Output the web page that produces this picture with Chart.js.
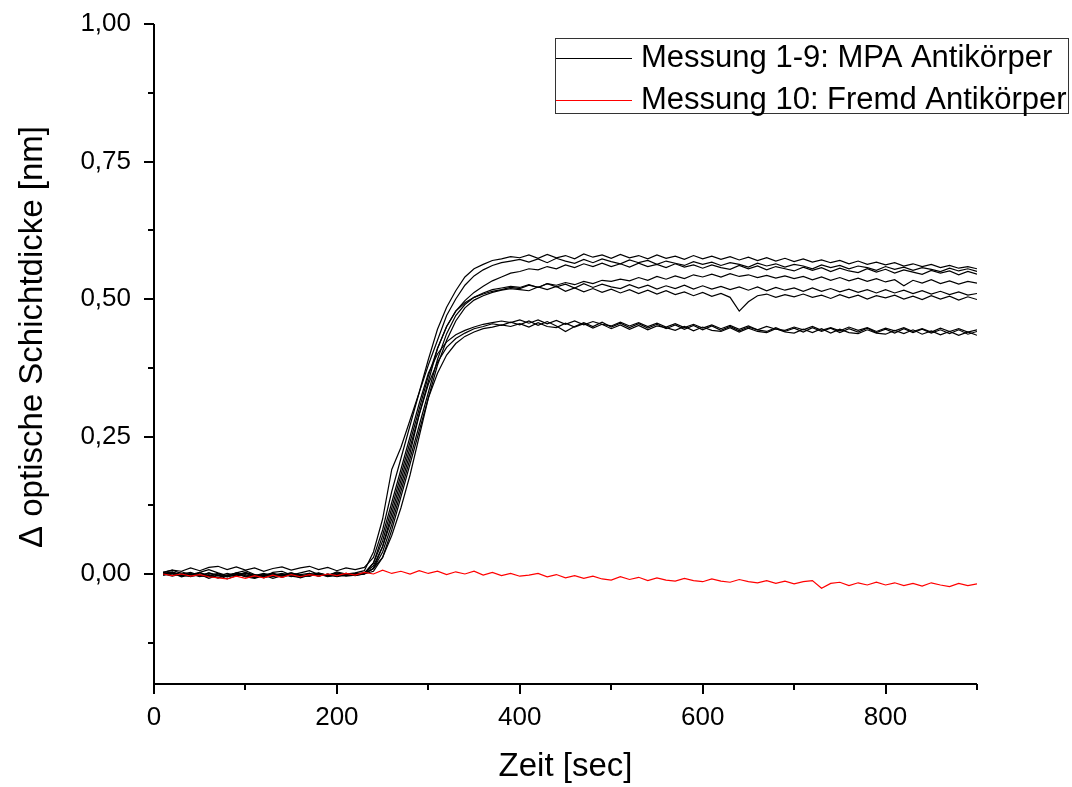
<!DOCTYPE html>
<html>
<head>
<meta charset="utf-8">
<script src="https://cdn.jsdelivr.net/npm/chart.js@4.4.0/dist/chart.umd.min.js"></script>
<style>
  html, body { margin: 0; padding: 0; background: #fff; }
  #wrap { width: 1072px; height: 787px; position: relative; }
</style>
</head>
<body>
<div id="wrap"><canvas id="myChart"></canvas></div>
<script>
// Zeit in Sekunden (Messpunkte alle 10 s)
const zeit = [
    10, 20, 30, 40, 50, 60, 70, 80, 90, 100,
    110, 120, 130, 140, 150, 160, 170, 180, 190, 200,
    210, 220, 230, 240, 250, 260, 270, 280, 290, 300,
    310, 320, 330, 340, 350, 360, 370, 380, 390, 400,
    410, 420, 430, 440, 450, 460, 470, 480, 490, 500,
    510, 520, 530, 540, 550, 560, 570, 580, 590, 600,
    610, 620, 630, 640, 650, 660, 670, 680, 690, 700,
    710, 720, 730, 740, 750, 760, 770, 780, 790, 800,
    810, 820, 830, 840, 850, 860, 870, 880, 890, 900
];

// Messung 1-9: MPA Antikörper (Δ Schichtdicke in nm)
const messung1 = [
    0.003, 0.007, 0.001, -0.004, 0.003, 0.008, 0.002, -0.003, 0.002, 0.006,
    -0.001, -0.005, 0.003, 0.005, -0.002, 0.002, 0.006, -0.001, -0.003, 0.004,
    0.000, 0.002, 0.006, 0.040, 0.100, 0.190, 0.230, 0.280, 0.330, 0.390,
    0.445, 0.485, 0.515, 0.540, 0.555, 0.563, 0.570, 0.573, 0.577, 0.575,
    0.580, 0.574, 0.581, 0.575, 0.579, 0.573, 0.582, 0.576, 0.580, 0.574,
    0.581, 0.575, 0.579, 0.573, 0.580, 0.574, 0.578, 0.572, 0.579, 0.573,
    0.578, 0.572, 0.577, 0.571, 0.576, 0.570, 0.575, 0.569, 0.574, 0.568,
    0.573, 0.567, 0.571, 0.566, 0.570, 0.564, 0.569, 0.563, 0.567, 0.562,
    0.566, 0.560, 0.564, 0.559, 0.563, 0.557, 0.561, 0.556, 0.559, 0.555
];
const messung2 = [
    0.003, 0.007, 0.005, 0.011, 0.006, 0.012, 0.014, 0.008, 0.013, 0.007,
    0.011, 0.005, 0.010, 0.013, 0.007, 0.011, 0.014, 0.008, 0.012, 0.006,
    0.011, 0.008, 0.012, 0.030, 0.080, 0.150, 0.210, 0.270, 0.330, 0.380,
    0.425, 0.470, 0.500, 0.525, 0.542, 0.553, 0.561, 0.566, 0.569, 0.572,
    0.567, 0.573, 0.566, 0.574, 0.569, 0.565, 0.572, 0.566, 0.573, 0.568,
    0.564, 0.571, 0.566, 0.570, 0.563, 0.569, 0.565, 0.561, 0.568, 0.563,
    0.567, 0.561, 0.566, 0.563, 0.558, 0.565, 0.560, 0.564, 0.558, 0.563,
    0.560, 0.555, 0.562, 0.557, 0.561, 0.555, 0.560, 0.557, 0.552, 0.559,
    0.554, 0.558, 0.552, 0.557, 0.554, 0.550, 0.556, 0.551, 0.555, 0.550
];
const messung3 = [
    -0.002, 0.002, -0.005, -0.001, 0.003, -0.004, -0.007, -0.002, 0.001, -0.005,
    -0.008, -0.003, 0.000, -0.006, -0.001, -0.005, 0.001, -0.004, 0.000, -0.005,
    -0.002, -0.001, 0.000, 0.020, 0.060, 0.120, 0.180, 0.240, 0.300, 0.360,
    0.410, 0.450, 0.478, 0.497, 0.512, 0.523, 0.533, 0.540, 0.547, 0.550,
    0.555, 0.553, 0.559, 0.555, 0.562, 0.557, 0.564, 0.559, 0.565, 0.559,
    0.564, 0.558, 0.565, 0.559, 0.563, 0.557, 0.564, 0.558, 0.562, 0.556,
    0.562, 0.557, 0.554, 0.561, 0.555, 0.560, 0.553, 0.559, 0.555, 0.551,
    0.558, 0.552, 0.557, 0.550, 0.556, 0.551, 0.548, 0.555, 0.549, 0.554,
    0.547, 0.553, 0.549, 0.545, 0.552, 0.547, 0.551, 0.544, 0.550, 0.545
];
const messung4 = [
    0.000, -0.004, 0.000, 0.003, -0.003, -0.005, 0.000, -0.004, 0.002, -0.003,
    -0.006, -0.001, 0.001, -0.004, 0.000, -0.005, -0.001, 0.002, -0.003, -0.004,
    0.001, -0.002, 0.002, 0.015, 0.050, 0.100, 0.160, 0.220, 0.290, 0.350,
    0.410, 0.450, 0.478, 0.493, 0.503, 0.509, 0.514, 0.517, 0.521, 0.519,
    0.525, 0.521, 0.528, 0.525, 0.530, 0.526, 0.532, 0.528, 0.534, 0.532,
    0.536, 0.533, 0.539, 0.534, 0.541, 0.536, 0.542, 0.537, 0.544, 0.540,
    0.545, 0.540, 0.546, 0.541, 0.544, 0.539, 0.543, 0.538, 0.542, 0.537,
    0.541, 0.535, 0.540, 0.534, 0.539, 0.533, 0.538, 0.532, 0.537, 0.531,
    0.535, 0.524, 0.534, 0.529, 0.535, 0.528, 0.533, 0.527, 0.532, 0.529
];
const messung5 = [
    0.001, 0.004, -0.003, 0.001, -0.004, 0.002, -0.002, -0.005, -0.001, 0.001,
    -0.004, 0.000, -0.005, -0.001, 0.002, -0.003, -0.004, 0.001, -0.003, 0.002,
    -0.002, 0.001, 0.001, 0.010, 0.040, 0.090, 0.150, 0.210, 0.270, 0.330,
    0.390, 0.437, 0.470, 0.490, 0.503, 0.511, 0.517, 0.520, 0.523, 0.521,
    0.526, 0.521, 0.528, 0.522, 0.527, 0.520, 0.528, 0.521, 0.527, 0.522,
    0.519, 0.526, 0.520, 0.525, 0.518, 0.524, 0.519, 0.525, 0.518, 0.524,
    0.518, 0.523, 0.517, 0.522, 0.516, 0.522, 0.515, 0.521, 0.516, 0.520,
    0.514, 0.520, 0.514, 0.519, 0.513, 0.518, 0.512, 0.517, 0.511, 0.517,
    0.511, 0.516, 0.510, 0.515, 0.509, 0.514, 0.508, 0.513, 0.507, 0.510
];
const messung6 = [
    -0.001, 0.003, -0.001, -0.005, -0.001, -0.008, -0.002, -0.009, -0.003, -0.001,
    -0.007, -0.002, -0.008, -0.003, -0.001, -0.007, -0.002, 0.000, -0.005, -0.001,
    -0.004, -0.002, 0.000, 0.010, 0.030, 0.070, 0.120, 0.180, 0.250, 0.320,
    0.380, 0.425, 0.460, 0.484, 0.498, 0.506, 0.512, 0.516, 0.519, 0.517,
    0.515, 0.522, 0.517, 0.523, 0.514, 0.520, 0.513, 0.519, 0.512, 0.518,
    0.511, 0.517, 0.510, 0.516, 0.509, 0.515, 0.508, 0.513, 0.506, 0.512,
    0.505, 0.510, 0.503, 0.478, 0.495, 0.506, 0.509, 0.503, 0.508, 0.504,
    0.509, 0.503, 0.507, 0.501, 0.508, 0.502, 0.507, 0.500, 0.506, 0.502,
    0.507, 0.500, 0.505, 0.499, 0.506, 0.500, 0.505, 0.498, 0.504, 0.499
];
const messung7 = [
    0.003, -0.002, 0.004, -0.001, -0.003, 0.002, -0.004, 0.001, -0.003, 0.003,
    -0.002, -0.004, 0.001, -0.003, 0.002, -0.002, -0.004, 0.001, -0.002, 0.002,
    -0.003, 0.000, 0.002, 0.020, 0.070, 0.130, 0.190, 0.250, 0.310, 0.365,
    0.400, 0.422, 0.435, 0.443, 0.449, 0.454, 0.457, 0.460, 0.457, 0.462,
    0.456, 0.462, 0.455, 0.461, 0.454, 0.460, 0.453, 0.459, 0.454, 0.451,
    0.458, 0.451, 0.457, 0.450, 0.456, 0.449, 0.455, 0.448, 0.454, 0.447,
    0.453, 0.446, 0.452, 0.445, 0.451, 0.444, 0.450, 0.445, 0.443, 0.449,
    0.444, 0.450, 0.443, 0.448, 0.442, 0.449, 0.443, 0.448, 0.441, 0.447,
    0.442, 0.448, 0.441, 0.446, 0.440, 0.447, 0.441, 0.446, 0.440, 0.444
];
const messung8 = [
    0.000, 0.003, -0.002, -0.004, 0.002, -0.003, 0.001, -0.005, -0.001, 0.002,
    -0.003, 0.001, -0.004, 0.000, -0.005, -0.001, 0.001, -0.004, 0.000, -0.003,
    0.001, -0.002, 0.001, 0.010, 0.050, 0.110, 0.170, 0.230, 0.290, 0.345,
    0.385, 0.412, 0.428, 0.438, 0.446, 0.450, 0.455, 0.452, 0.458, 0.453,
    0.460, 0.452, 0.459, 0.451, 0.441, 0.450, 0.457, 0.450, 0.458, 0.449,
    0.456, 0.448, 0.455, 0.447, 0.454, 0.446, 0.453, 0.445, 0.452, 0.444,
    0.451, 0.443, 0.450, 0.442, 0.449, 0.444, 0.441, 0.448, 0.441, 0.447,
    0.440, 0.448, 0.441, 0.447, 0.439, 0.446, 0.440, 0.447, 0.439, 0.445,
    0.438, 0.446, 0.439, 0.445, 0.438, 0.444, 0.437, 0.444, 0.436, 0.441
];
const messung9 = [
    -0.002, 0.001, -0.004, 0.000, -0.005, -0.001, -0.007, -0.002, 0.000, -0.005,
    -0.001, -0.007, -0.002, 0.001, -0.004, -0.006, -0.001, 0.000, -0.004, -0.001,
    0.000, -0.003, 0.000, 0.005, 0.030, 0.080, 0.140, 0.200, 0.260, 0.320,
    0.365, 0.398, 0.419, 0.432, 0.440, 0.446, 0.449, 0.453, 0.450, 0.455,
    0.449, 0.457, 0.450, 0.448, 0.456, 0.449, 0.455, 0.447, 0.454, 0.446,
    0.453, 0.445, 0.452, 0.444, 0.451, 0.448, 0.443, 0.450, 0.442, 0.449,
    0.443, 0.441, 0.448, 0.440, 0.447, 0.441, 0.439, 0.446, 0.440, 0.438,
    0.445, 0.439, 0.446, 0.438, 0.445, 0.439, 0.437, 0.444, 0.438, 0.436,
    0.443, 0.437, 0.444, 0.436, 0.442, 0.435, 0.441, 0.434, 0.440, 0.434
];
// Messung 10: Fremd Antikörper
const messung10 = [
    0.000, -0.003, 0.000, -0.004, -0.001, -0.005, -0.007, -0.009, -0.004, -0.008,
    -0.003, -0.007, -0.002, -0.006, -0.001, -0.005, -0.001, -0.004, 0.000, -0.003,
    0.001, -0.002, 0.003, 0.000, 0.007, 0.001, 0.005, 0.000, 0.006, 0.001,
    0.005, -0.001, 0.004, 0.000, 0.005, -0.002, 0.003, -0.003, 0.001, -0.004,
    -0.002, 0.001, -0.005, -0.001, -0.007, -0.003, -0.008, -0.004, -0.009, -0.011,
    -0.005, -0.010, -0.006, -0.012, -0.007, -0.011, -0.013, -0.008, -0.012, -0.014,
    -0.009, -0.013, -0.015, -0.010, -0.014, -0.016, -0.012, -0.017, -0.013, -0.018,
    -0.014, -0.012, -0.026, -0.017, -0.015, -0.021, -0.016, -0.020, -0.015, -0.020,
    -0.016, -0.021, -0.017, -0.022, -0.016, -0.020, -0.023, -0.017, -0.021, -0.018
];

const legendLabels = ['Messung 1-9: MPA Antikörper', 'Messung 10: Fremd Antikörper'];
const xTicks = [0, 200, 400, 600, 800];
const xMinorTicks = [100, 300, 500, 700, 900];
const yTicks = [0, 0.25, 0.5, 0.75, 1];
const yMinorTicks = [-0.125, 0.125, 0.375, 0.625, 0.875];
const xTitle = 'Zeit [sec]';
const yTitle = 'Δ optische Schichtdicke [nm]';

const fontFamily = '"Liberation Sans", Arial, sans-serif';

function toPoints(values) {
    return values.map((v, i) => ({ x: zeit[i], y: v }));
}

const blackSeries = [messung1, messung2, messung3, messung4, messung5, messung6, messung7, messung8, messung9];

// red first so it is painted on top of the black curves
const datasets = [{
    label: legendLabels[1],
    data: toPoints(messung10),
    borderColor: '#ff0000',
    borderWidth: 1.2,
    pointRadius: 0,
    tension: 0,
    fill: false
}];
blackSeries.forEach((s, i) => {
    datasets.push({
        label: i === 0 ? legendLabels[0] : '',
        data: toPoints(s),
        borderColor: '#000000',
        borderWidth: 1.2,
        pointRadius: 0,
        tension: 0,
        fill: false
    });
});

// axes, minor ticks, y title and legend box
const decorPlugin = {
    id: 'decor',
    afterDraw(chart) {
        const ctx = chart.ctx;
        const area = chart.chartArea;
        const xs = chart.scales.x;
        const ys = chart.scales.y;
        ctx.save();
        ctx.strokeStyle = '#000';
        ctx.lineWidth = 2;
        ctx.beginPath();
        ctx.moveTo(area.left, area.top);
        ctx.lineTo(area.left, area.bottom);
        ctx.lineTo(area.right, area.bottom);
        ctx.stroke();

        ctx.beginPath();
        xTicks.forEach(v => {
            const px = Math.round(xs.getPixelForValue(v));
            ctx.moveTo(px, area.bottom);
            ctx.lineTo(px, area.bottom + 10);
        });
        xMinorTicks.forEach(v => {
            const px = Math.round(xs.getPixelForValue(v));
            ctx.moveTo(px, area.bottom);
            ctx.lineTo(px, area.bottom + 6);
        });
        yTicks.forEach(v => {
            const py = Math.round(ys.getPixelForValue(v));
            ctx.moveTo(area.left, py);
            ctx.lineTo(area.left - 10, py);
        });
        yMinorTicks.forEach(v => {
            const py = Math.round(ys.getPixelForValue(v));
            ctx.moveTo(area.left, py);
            ctx.lineTo(area.left - 6, py);
        });
        ctx.stroke();

        // y axis title
        ctx.fillStyle = '#000';
        ctx.font = '33px ' + fontFamily;
        ctx.textAlign = 'center';
        ctx.textBaseline = 'middle';
        ctx.translate(33, 337);
        ctx.rotate(-Math.PI / 2);
        ctx.fillText(yTitle, 0, 0);
        ctx.restore();

        // legend
        ctx.save();
        ctx.strokeStyle = '#333';
        ctx.lineWidth = 1;
        ctx.strokeRect(555.5, 38.5, 513, 75);
        ctx.strokeStyle = '#000';
        ctx.beginPath();
        ctx.moveTo(556, 58.5);
        ctx.lineTo(632, 58.5);
        ctx.stroke();
        ctx.strokeStyle = '#ff0000';
        ctx.beginPath();
        ctx.moveTo(556, 100.5);
        ctx.lineTo(632, 100.5);
        ctx.stroke();
        ctx.fillStyle = '#000';
        ctx.font = '31px ' + fontFamily;
        ctx.textAlign = 'left';
        ctx.textBaseline = 'middle';
        ctx.fillText(legendLabels[0], 641, 58);
        ctx.fillText(legendLabels[1], 641, 100);
        ctx.restore();
    }
};

const ctx = document.getElementById('myChart').getContext('2d');
new Chart(ctx, {
    type: 'line',
    data: { datasets: datasets },
    options: {
        responsive: true,
        maintainAspectRatio: false,
        animation: false,
        layout: { padding: { top: 24, right: 95, left: 0, bottom: 0 } },
        plugins: {
            legend: { display: false },
            tooltip: { enabled: false }
        },
        scales: {
            x: {
                type: 'linear',
                min: 0,
                max: 900,
                afterBuildTicks: scale => { scale.ticks = xTicks.map(v => ({ value: v })); },
                afterFit: scale => {
                    scale.height = 103;
                    scale.paddingLeft = 0;
                    scale.paddingRight = 0;
                },
                grid: { display: false, drawTicks: false },
                border: { display: false },
                ticks: {
                    padding: 18,
                    color: '#000',
                    font: { family: fontFamily, size: 26 },
                    maxRotation: 0,
                    callback: v => String(v)
                },
                title: {
                    display: true,
                    text: xTitle,
                    color: '#000',
                    padding: { top: 0, bottom: 0 },
                    font: { family: fontFamily, size: 33, weight: 'normal' }
                }
            },
            y: {
                type: 'linear',
                min: -0.2,
                max: 1.0,
                afterBuildTicks: scale => { scale.ticks = yTicks.map(v => ({ value: v })); },
                afterFit: scale => {
                    scale.width = 154;
                    scale.paddingTop = 0;
                    scale.paddingBottom = 0;
                },
                grid: { display: false, drawTicks: false },
                border: { display: false },
                ticks: {
                    padding: 23,
                    color: '#000',
                    font: { family: fontFamily, size: 26 },
                    callback: v => v.toFixed(2).replace('.', ',')
                }
            }
        }
    },
    plugins: [decorPlugin]
});
</script>
</body>
</html>
